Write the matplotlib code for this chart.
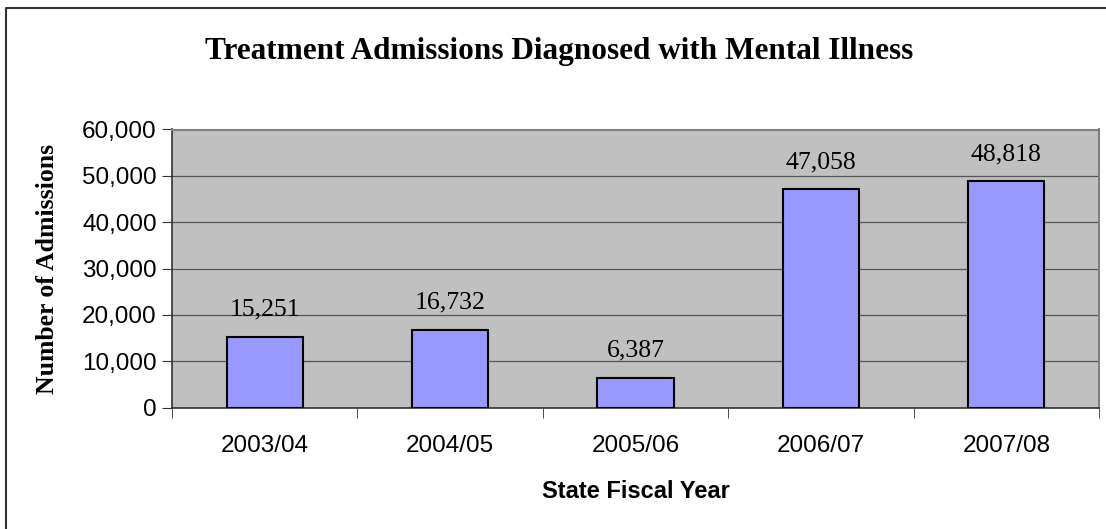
import numpy as np
import matplotlib.pyplot as plt
from matplotlib.lines import Line2D

years = ['2003/04', '2004/05', '2005/06', '2006/07', '2007/08']
admissions = [15251, 16732, 6387, 47058, 48818]
y_ticks = [0, 10000, 20000, 30000, 40000, 50000, 60000]

serif = ['Liberation Serif', 'DejaVu Serif']
sans = ['Liberation Sans', 'DejaVu Sans']

W, H = 1106, 529
fig = plt.figure(figsize=(W / 100, H / 100), dpi=100)
# outer chart border (only top and left edges are inside the picture)
fig.lines.append(Line2D([5.5 / W, 5.5 / W, 1], [0, 1 - 7.5 / H, 1 - 7.5 / H],
                        transform=fig.transFigure, color='#333333', linewidth=1.5))

ax = fig.add_axes([172 / W, 1 - 407.5 / H, 927 / W, 278 / H])
ax.set_facecolor('#C0C0C0')

x = np.arange(len(years))
ax.bar(x, admissions, width=0.41, color='#9999FF', edgecolor='black',
       linewidth=1.5, zorder=3)
for xi, v in zip(x, admissions):
    ax.text(xi, v + 3500, f'{v:,}', ha='center', va='bottom',
            family=serif, fontsize=18.5, zorder=4)

ax.set_xlim(-0.5, len(years) - 0.5)
ax.set_ylim(0, 60000)
ax.set_yticks(y_ticks)
ax.set_yticklabels([f'{t:,}' for t in y_ticks], family=sans, fontsize=17.5)
ax.yaxis.grid(True, color='#555555', linewidth=0.9, zorder=0)
ax.set_axisbelow(True)

ax.set_xticks(x)
ax.set_xticklabels(years, family=sans, fontsize=17.5)
ax.set_xticks(np.arange(len(years) + 1) - 0.5, minor=True)
ax.tick_params(axis='x', which='major', length=0, pad=20)
ax.tick_params(axis='x', which='minor', length=7, direction='out', color='#333333')
ax.tick_params(axis='y', length=7, direction='out', color='#333333', pad=4)

for side in ['top', 'right']:
    ax.spines[side].set_color('#808080')
    ax.spines[side].set_linewidth(1.5)
for side in ['left', 'bottom']:
    ax.spines[side].set_color('#333333')
    ax.spines[side].set_linewidth(1.2)

ax.set_ylabel('Number of Admissions', family=serif, fontweight='bold',
              fontsize=18.5)
ax.yaxis.set_label_coords(-0.122, 0.5)
ax.set_xlabel('State Fiscal Year', family=sans, fontweight='bold', fontsize=17)
ax.xaxis.set_label_coords(0.5, -0.262)

fig.text(559 / W, 1 - 52 / H, 'Treatment Admissions Diagnosed with Mental Illness',
         ha='center', va='center', family=serif, fontweight='bold', fontsize=22.5)

fig.savefig('out.png', dpi=100)
